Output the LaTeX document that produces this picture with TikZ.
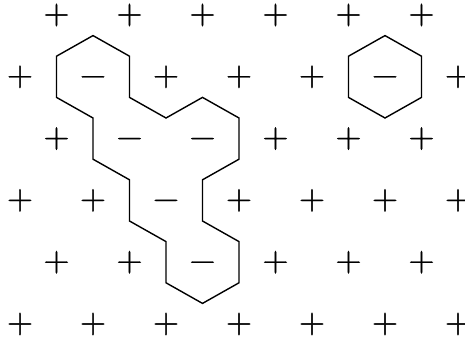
\documentclass[tikz,border=0pt]{standalone}
\usepackage{fontspec}
\newfontfamily\signfont{Latin Modern Roman}[FakeBold=0.8]
\begin{document}
\begin{tikzpicture}[x=36.5pt,y=-20.6pt,
  sign/.style={inner sep=0pt, font=\signfont\fontsize{36}{36}\selectfont, text height=18pt, text depth=0pt},
  contour/.style={line width=1.4pt, line join=miter}]
\useasboundingbox (-20pt,15pt) rectangle (445pt,-324pt);
% plus sites
\foreach \c/\t in {1/0,3/0,5/0,7/0,9/0,11/0,
  0/3,4/3,6/3,8/3,12/3,
  1/6,7/6,9/6,11/6,
  0/9,2/9,6/9,8/9,10/9,12/9,
  1/12,3/12,7/12,9/12,11/12,
  0/15,2/15,4/15,6/15,8/15,10/15,12/15}
  \node[sign] (p-\c-\t) at (\c,\t) {+};
% minus sites
\foreach \c/\t in {2/3,10/3,3/6,5/6,4/9,5/12}
  \node[sign] (m-\c-\t) at (\c,\t) {−};
% big contour
\draw[contour] (2,1) -- (3,2) -- (3,4) -- (4,5) -- (5,4) -- (6,5) -- (6,7)
  -- (5,8) -- (5,10) -- (6,11) -- (6,13) -- (5,14) -- (4,13) -- (4,11)
  -- (3,10) -- (3,8) -- (2,7) -- (2,5) -- (1,4) -- (1,2) -- cycle;
% small hexagon
\draw[contour] (10,1) -- (11,2) -- (11,4) -- (10,5) -- (9,4) -- (9,2) -- cycle;
\end{tikzpicture}
\end{document}
